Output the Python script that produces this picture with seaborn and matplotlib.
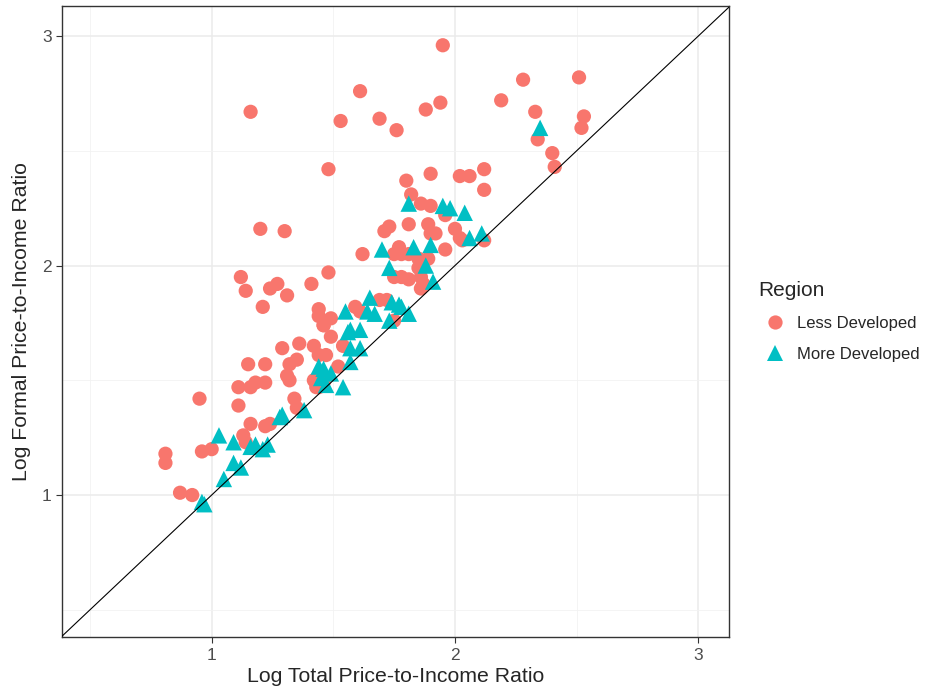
import pandas as pd
import matplotlib.pyplot as plt
import seaborn as sns
from matplotlib.ticker import MultipleLocator

# Log price-to-income ratios
less_x = [1.95, 2.28, 2.51, 2.19, 1.94, 1.88, 2.33, 2.53, 2.52, 2.34, 2.40, 2.41,
          1.90, 2.02, 2.06, 2.12, 2.12, 1.16, 1.61, 1.53, 1.69, 1.76, 1.48, 1.80,
          1.82, 1.86, 1.90, 1.96, 1.73, 1.71, 1.81, 1.89, 1.92, 2.00, 2.02, 2.03,
          2.12, 1.62, 1.77, 1.75, 1.78, 1.81, 1.90, 1.85, 1.87, 1.89, 1.96, 1.75,
          1.78, 1.81, 1.85, 1.86, 1.87, 1.86, 1.20, 1.30, 1.12, 1.14, 1.24, 1.27,
          1.31, 1.21, 1.41, 1.48, 1.44, 1.44, 1.49, 1.46, 1.49, 1.29, 1.36, 1.42,
          1.44, 1.47, 1.15, 1.22, 1.32, 1.35, 1.31, 1.11, 1.11, 1.16, 1.18, 1.22,
          1.32, 1.43, 1.46, 0.95, 0.81, 0.81, 0.87, 0.92, 0.96, 1.00, 1.13, 1.14,
          1.16, 1.22, 1.24, 1.34, 1.35, 1.59, 1.61, 1.69, 1.72, 1.75, 1.54, 1.52,
          1.42, 1.44, 1.46]
less_y = [2.96, 2.81, 2.82, 2.72, 2.71, 2.68, 2.67, 2.65, 2.60, 2.55, 2.49, 2.43,
          2.40, 2.39, 2.39, 2.42, 2.33, 2.67, 2.76, 2.63, 2.64, 2.59, 2.42, 2.37,
          2.31, 2.27, 2.26, 2.22, 2.17, 2.15, 2.18, 2.18, 2.14, 2.16, 2.12, 2.11,
          2.11, 2.05, 2.08, 2.05, 2.05, 2.05, 2.14, 2.03, 2.02, 2.03, 2.07, 1.95,
          1.95, 1.94, 1.99, 1.95, 1.92, 1.90, 2.16, 2.15, 1.95, 1.89, 1.90, 1.92,
          1.87, 1.82, 1.92, 1.97, 1.81, 1.78, 1.77, 1.74, 1.69, 1.64, 1.66, 1.65,
          1.61, 1.61, 1.57, 1.57, 1.57, 1.59, 1.52, 1.47, 1.39, 1.47, 1.49, 1.49,
          1.50, 1.47, 1.49, 1.42, 1.18, 1.14, 1.01, 1.00, 1.19, 1.20, 1.26, 1.23,
          1.31, 1.30, 1.31, 1.42, 1.38, 1.82, 1.80, 1.85, 1.85, 1.76, 1.65, 1.56,
          1.50, 1.47, 1.74]

more_x = [2.35, 1.81, 1.95, 1.98, 2.04, 2.06, 2.11, 1.70, 1.83, 1.90, 1.73, 1.88,
          1.91, 1.55, 1.65, 1.64, 1.67, 1.74, 1.77, 1.73, 1.78, 1.81, 1.57, 1.61,
          1.56, 1.57, 1.61, 1.57, 1.44, 1.46, 1.45, 1.47, 1.49, 1.54, 1.38, 1.29,
          1.28, 1.16, 1.18, 1.21, 1.23, 1.03, 1.09, 1.09, 1.12, 1.05, 0.96, 0.97]
more_y = [2.60, 2.27, 2.26, 2.25, 2.23, 2.12, 2.14, 2.07, 2.08, 2.09, 1.99, 2.00,
          1.93, 1.80, 1.86, 1.80, 1.79, 1.84, 1.83, 1.76, 1.82, 1.79, 1.72, 1.72,
          1.71, 1.64, 1.64, 1.58, 1.56, 1.55, 1.51, 1.48, 1.53, 1.47, 1.37, 1.35,
          1.34, 1.21, 1.22, 1.20, 1.22, 1.26, 1.23, 1.14, 1.12, 1.07, 0.97, 0.96]

df = pd.DataFrame({
    "total": less_x + more_x,
    "formal": less_y + more_y,
    "Region": ["Less Developed"] * len(less_x) + ["More Developed"] * len(more_x),
})

sns.set_style("white")
plt.rcParams["font.family"] = ["Liberation Sans", "DejaVu Sans"]

fig = plt.figure(figsize=(9.33, 6.95), dpi=100)
ax = fig.add_axes([0.0665, 0.083, 0.7145, 0.908])

sns.scatterplot(
    data=df, x="total", y="formal", hue="Region", style="Region", size="Region",
    palette={"Less Developed": "#F8766D", "More Developed": "#00BFC4"},
    markers={"Less Developed": "o", "More Developed": "^"},
    sizes={"Less Developed": 105, "More Developed": 140},
    linewidth=0, ax=ax,
)
ax.axline((1, 1), slope=1, color="black", lw=0.8, zorder=5)

ax.set_xlim(0.385, 3.125)
ax.set_ylim(0.38, 3.13)
ax.xaxis.set_major_locator(MultipleLocator(1))
ax.yaxis.set_major_locator(MultipleLocator(1))
ax.xaxis.set_minor_locator(MultipleLocator(0.5))
ax.yaxis.set_minor_locator(MultipleLocator(0.5))
ax.grid(which="major", color="#EBEBEB", lw=1.1)
ax.grid(which="minor", color="#F2F2F2", lw=0.6)
ax.set_axisbelow(True)
ax.tick_params(which="major", length=4, width=0.8, color="#333333",
               labelcolor="#4D4D4D", labelsize=12.5, bottom=True, left=True)
ax.tick_params(which="minor", length=0)
for sp in ax.spines.values():
    sp.set_color("#333333")
    sp.set_linewidth(1.0)

ax.set_xlabel("Log Total Price-to-Income Ratio", fontsize=15.3, labelpad=3)
ax.set_ylabel("Log Formal Price-to-Income Ratio", fontsize=15.3, labelpad=8)

leg = ax.legend(title="Region", loc="center left", bbox_to_anchor=(1.022, 0.5),
                frameon=False, fontsize=12, title_fontsize=15,
                labelspacing=0.95, handletextpad=0.3, markerscale=1.0)
leg._legend_box.align = "left"

fig.savefig("out.png", dpi=100)
